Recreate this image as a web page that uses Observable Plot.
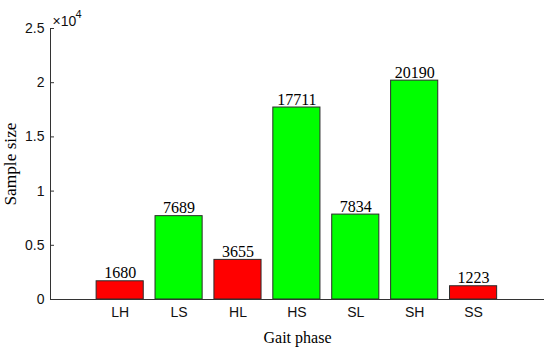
<!DOCTYPE html>
<html>
<head>
<meta charset="utf-8">
<script src="https://cdn.jsdelivr.net/npm/d3@7"></script>
<script src="https://cdn.jsdelivr.net/npm/@observablehq/plot@0.6"></script>
<style>
  html, body { margin: 0; padding: 0; background: #fff; }
</style>
</head>
<body>
<div id="chart"></div>
<script>
const categories = ["LH", "LS", "HL", "HS", "SL", "SH", "SS"];
const values = [1680, 7689, 3655, 17711, 7834, 20190, 1223];
const kinds = ["double", "single", "double", "single", "single", "single", "double"];
const yTicks = [0, 5000, 10000, 15000, 20000, 25000];
const yTickLabels = ["0", "0.5", "1", "1.5", "2", "2.5"];
const xLabel = "Gait phase";
const yLabel = "Sample size";
const exponentBase = "×10";
const exponent = "4";

const data = categories.map((c, i) => ({cat: c, pos: i + 1, value: values[i], kind: kinds[i]}));
const xDomain = [-0.183, 8.204];
const serif = "Liberation Serif, Times New Roman, serif";
const sans = "Liberation Sans, Arial, sans-serif";

const chart = Plot.plot({
  width: 550,
  height: 352,
  marginLeft: 50,
  marginRight: 6,
  marginTop: 28,
  marginBottom: 53,
  style: {fontFamily: sans, fontSize: "14px", color: "#111", background: "#fff"},
  x: {type: "linear", domain: xDomain},
  y: {domain: [0, 25000]},
  color: {domain: ["double", "single"], range: ["#ff0000", "#00ff00"]},
  marks: [
    Plot.rectY(data, {
      x1: d => d.pos - 0.4, x2: d => d.pos + 0.4, y: "value",
      fill: "kind", stroke: "#2b2b2b", strokeWidth: 1
    }),
    Plot.text(data, {
      x: "pos", y: "value", text: d => String(d.value),
      lineAnchor: "bottom", dy: -3, fontFamily: serif, fontSize: 16, fill: "#000"
    }),
    Plot.ruleY([0], {stroke: "#333", strokeWidth: 1}),
    Plot.ruleX([xDomain[0]], {stroke: "#333", strokeWidth: 1}),
    Plot.ruleY(yTicks, {insetRight: 490, stroke: "#333", strokeWidth: 1}),
    Plot.axisY({ticks: yTicks, tickFormat: d => yTickLabels[yTicks.indexOf(d)], tickSize: 0, tickPadding: 6, label: null, fontSize: 14, fill: "#111"}),
    Plot.axisX({ticks: categories.map((c, i) => i + 1), tickFormat: d => categories[d - 1], tickSize: 0, tickPadding: 8, label: null, fontSize: 14, fill: "#111"}),
    Plot.text([yLabel], {frameAnchor: "left", textAnchor: "middle", lineAnchor: "middle", rotate: -90, dx: -40, fontFamily: serif, fontSize: 17.3, fill: "#000"}),
    Plot.text([xLabel], {frameAnchor: "bottom", textAnchor: "middle", lineAnchor: "middle", dy: 38, fontFamily: serif, fontSize: 16, fill: "#000"}),
    Plot.text([exponentBase], {frameAnchor: "top-left", textAnchor: "start", lineAnchor: "bottom", dx: 2, dy: -3, fontFamily: sans, fontSize: 14, fill: "#111"}),
    Plot.text([exponent], {frameAnchor: "top-left", textAnchor: "start", lineAnchor: "bottom", dx: 25, dy: -11, fontFamily: sans, fontSize: 11, fill: "#111"})
  ]
});
document.getElementById("chart").appendChild(chart);
</script>
</body>
</html>
